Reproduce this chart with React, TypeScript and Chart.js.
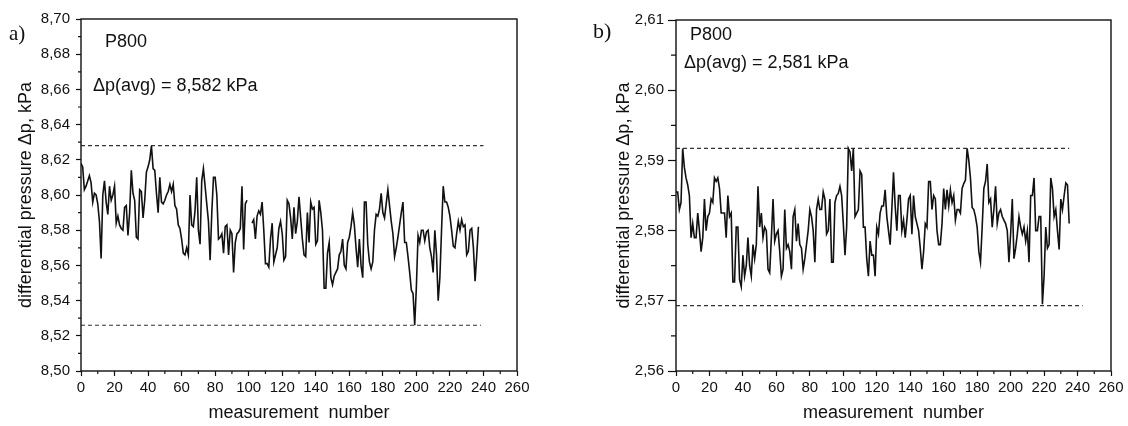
import React, { useEffect, useRef } from "react";
import { Chart, registerables } from "chart.js";

Chart.register(...registerables);

// ---------- data ----------
const measurementTicks = [0, 20, 40, 60, 80, 100, 120, 140, 160, 180, 200, 220, 240, 260];

const leftYTicks = [8.5, 8.52, 8.54, 8.56, 8.58, 8.6, 8.62, 8.64, 8.66, 8.68, 8.7];
const rightYTicks = [2.56, 2.57, 2.58, 2.59, 2.6, 2.61];

const leftPressure: (number | null)[] = [
  8.618, 8.616, 8.603, 8.605, 8.608, 8.611, 8.607, 8.596, 8.601, 8.6,
  8.595, 8.585, 8.564, 8.6, 8.608, 8.596, 8.589, 8.605, 8.597, 8.6,
  8.605, 8.584, 8.588, 8.583, 8.581, 8.58, 8.593, 8.594, 8.577, 8.59,
  8.614, 8.601, 8.597, 8.576, 8.575, 8.603, 8.602, 8.587, 8.597, 8.613,
  8.616, 8.62, 8.628, 8.615, 8.614, 8.601, 8.59, 8.61, 8.596, 8.595,
  8.597, 8.6, 8.602, 8.606, 8.602, 8.606, 8.594, 8.592, 8.583, 8.581,
  8.575, 8.567, 8.566, 8.57, 8.566, 8.6, 8.583, 8.582, 8.591, 8.61,
  8.58, 8.572, 8.608, 8.615, 8.605, 8.595, 8.585, 8.563, 8.59, 8.61,
  8.61, 8.6, 8.575, 8.576, 8.578, 8.567, 8.582, 8.583, 8.566, 8.58,
  8.578, 8.556, 8.573, 8.578, 8.579, 8.581, 8.605, 8.569, 8.595, 8.597,
  null, null, 8.584, 8.586, 8.575, 8.588, 8.591, 8.589, 8.596, 8.58,
  8.561, 8.561, 8.559, 8.575, 8.584, 8.562, 8.566, 8.57, 8.581, 8.585,
  8.578, 8.563, 8.565, 8.597, 8.595, 8.587, 8.575, 8.593, 8.578, 8.585,
  8.599, 8.587, 8.575, 8.566, 8.565, 8.59, 8.573, 8.596, 8.592, 8.593,
  8.572, 8.574, 8.597, 8.59, 8.58, 8.547, 8.547, 8.567, 8.573, 8.553,
  8.549, 8.554, 8.556, 8.558, 8.566, 8.568, 8.575, 8.56, 8.558, 8.573,
  8.576, 8.582, 8.59, 8.583, 8.57, 8.559, 8.575, 8.56, 8.553, 8.596,
  8.596, 8.572, 8.562, 8.558, 8.562, 8.58, 8.589, 8.588, 8.592, 8.601,
  8.59, 8.587, 8.595, 8.603, 8.594, 8.585, 8.578, 8.565, 8.57, 8.576,
  8.583, 8.59, 8.596, 8.573, 8.573, 8.565, 8.556, 8.546, 8.544, 8.526,
  8.548, 8.577, 8.573, 8.58, 8.58, 8.574, 8.579, 8.58, 8.57, 8.565,
  8.556, 8.58, 8.566, 8.54, 8.553, 8.58, 8.605, 8.596, 8.596, 8.593,
  8.588, 8.58, 8.571, 8.57, 8.578, 8.585, 8.58, 8.586, 8.582, 8.583,
  8.566, 8.568, 8.58, 8.581, 8.57, 8.551, 8.566, 8.582,
];

const rightPressure: number[] = [
  2.5855, 2.5855, 2.583, 2.584, 2.5917, 2.589, 2.5875, 2.5865, 2.585, 2.579,
  2.581, 2.579, 2.579, 2.5825, 2.58, 2.577, 2.579, 2.5845, 2.58, 2.582,
  2.5825, 2.5845, 2.584, 2.5875, 2.587, 2.5875, 2.586, 2.5825, 2.5825, 2.5825,
  2.579, 2.585, 2.582, 2.5825, 2.5727, 2.5727, 2.5805, 2.5805, 2.573, 2.572,
  2.5765, 2.5735, 2.575, 2.579, 2.575, 2.5735, 2.578, 2.576, 2.578, 2.5863,
  2.5805, 2.5825, 2.579, 2.5805, 2.58, 2.5745, 2.574, 2.579, 2.5845, 2.5785,
  2.5795, 2.58, 2.577, 2.5735, 2.5745, 2.583, 2.5775, 2.578, 2.577, 2.5745,
  2.582, 2.583, 2.5785, 2.581, 2.578, 2.5775, 2.5745, 2.576, 2.578, 2.58,
  2.583, 2.582, 2.58, 2.5755, 2.583, 2.5845, 2.583, 2.583, 2.5855, 2.5845,
  2.5795, 2.58, 2.5845, 2.5755, 2.5755, 2.584, 2.585, 2.5853, 2.5863, 2.585,
  2.581, 2.5765, 2.5805, 2.5917, 2.5912, 2.5885, 2.5917, 2.582, 2.5825, 2.583,
  2.5885, 2.588, 2.5805, 2.5805, 2.576, 2.5735, 2.5785, 2.5765, 2.5765, 2.5735,
  2.5805, 2.5795, 2.5825, 2.5835, 2.5835, 2.5858, 2.582, 2.58, 2.578, 2.583,
  2.5883, 2.5835, 2.58, 2.585, 2.585, 2.58, 2.5815, 2.579, 2.5815, 2.5845,
  2.585, 2.5795, 2.585, 2.582, 2.581, 2.58, 2.5775, 2.5745, 2.577, 2.581,
  2.5805, 2.587, 2.587, 2.583, 2.585, 2.5845, 2.58, 2.578, 2.578, 2.581,
  2.586, 2.583, 2.5858, 2.5835, 2.5858, 2.584, 2.585, 2.5815, 2.583, 2.583,
  2.5825, 2.586, 2.5867, 2.5872, 2.5917, 2.59, 2.5875, 2.5833, 2.583, 2.582,
  2.5805, 2.577, 2.5755, 2.5805, 2.586, 2.587, 2.5895, 2.584, 2.5845, 2.5805,
  2.583, 2.5863, 2.581, 2.5825, 2.583, 2.582, 2.5815, 2.581, 2.58, 2.5755,
  2.5795, 2.5845, 2.576, 2.5775, 2.5795, 2.582, 2.5805, 2.5795, 2.5805, 2.5785,
  2.58, 2.5755, 2.585, 2.585, 2.5875, 2.58, 2.58, 2.582, 2.582, 2.5695,
  2.5735, 2.5805, 2.5775, 2.578, 2.5875, 2.586, 2.582, 2.583, 2.58, 2.5773,
  2.5845, 2.583, 2.585, 2.5868, 2.5865, 2.581,
];

// limit (dashed) lines: value levels and where each line ends on the x axis
const leftLimitLevels = [8.628, 8.526];
const leftLimitEnds = [240, 238.5];
const rightLimitLevels = [2.5917, 2.5693];
const rightLimitEnds = [235, 243];

const leftTexts = ["a)", "P800", "Δp(avg) = 8,582 kPa"];
const rightTexts = ["b)", "P800", "Δp(avg) = 2,581 kPa"];

const xAxisTitle = "measurement  number";
const yAxisTitle = "differential pressure Δp, kPa";

// ---------- styling ----------
const SANS = '"Liberation Sans", Arial, sans-serif';
const SERIF = '"Liberation Serif", "Times New Roman", serif';
const INK = "#111";

type TextPos = { x: number; y: number; font: string };

type PanelProps = {
  values: (number | null)[];
  yTicks: number[];
  limitLevels: number[];
  limitEnds: number[];
  texts: string[];
  textPos: TextPos[];
  left: number;
  width: number;
  yAxisWidth: number;
  padTop: number;
  padRight: number;
  yTickLen: number;
  yTickPad: number;
  yMinorLen: number;
  xTickLen: number;
  xMinorLen: number;
  yTitlePad: number;
};

function fmt(v: number) {
  return Number(v).toFixed(2).replace(".", ",");
}

function Panel(p: PanelProps) {
  const ref = useRef<HTMLCanvasElement | null>(null);

  useEffect(() => {
    if (!ref.current) return;

    const decor = {
      id: "decor",
      afterDraw(chart: any) {
        const { ctx, chartArea: a, scales } = chart;
        ctx.save();
        ctx.strokeStyle = INK;
        ctx.lineWidth = 1.4;
        ctx.strokeRect(a.left, a.top, a.right - a.left, a.bottom - a.top);
        ctx.lineWidth = 1.2;
        ctx.beginPath();
        for (let i = 0; i < measurementTicks.length - 1; i++) {
          const v = (measurementTicks[i] + measurementTicks[i + 1]) / 2;
          const px = scales.x.getPixelForValue(v);
          ctx.moveTo(px, a.bottom);
          ctx.lineTo(px, a.bottom + p.xMinorLen);
        }
        for (let i = 0; i < p.yTicks.length - 1; i++) {
          const v = (p.yTicks[i] + p.yTicks[i + 1]) / 2;
          const py = scales.y.getPixelForValue(v);
          ctx.moveTo(a.left - p.yMinorLen, py);
          ctx.lineTo(a.left, py);
        }
        ctx.stroke();
        ctx.fillStyle = INK;
        ctx.textAlign = "left";
        ctx.textBaseline = "alphabetic";
        p.texts.forEach((t, i) => {
          const pos = p.textPos[i];
          ctx.font = pos.font;
          ctx.fillText(t, pos.x, pos.y);
        });
        ctx.restore();
      },
    };

    const datasets: any[] = [
      {
        data: p.values.map((v, i) => ({ x: i, y: v })),
        borderColor: INK,
        borderWidth: 1.6,
        pointRadius: 0,
        tension: 0,
        spanGaps: false,
      },
    ];
    p.limitLevels.forEach((lvl, i) => {
      datasets.push({
        data: [
          { x: 0, y: lvl },
          { x: p.limitEnds[i], y: lvl },
        ],
        borderColor: "#333",
        borderWidth: 1.2,
        borderDash: [4, 3],
        pointRadius: 0,
        tension: 0,
      });
    });

    const chart = new Chart(ref.current, {
      type: "line",
      data: { datasets },
      plugins: [decor],
      options: {
        animation: false,
        responsive: false,
        devicePixelRatio: 1,
        events: [],
        layout: { padding: { top: p.padTop, right: p.padRight, left: 0, bottom: 0 } },
        plugins: { legend: { display: false }, tooltip: { enabled: false } },
        scales: {
          x: {
            type: "linear",
            min: measurementTicks[0],
            max: measurementTicks[measurementTicks.length - 1],
            afterBuildTicks: (s: any) => {
              s.ticks = measurementTicks.map((v) => ({ value: v }));
            },
            afterFit: (s: any) => {
              s.height = 55;
            },
            border: { display: false },
            grid: {
              drawOnChartArea: false,
              drawTicks: true,
              tickLength: p.xTickLen,
              tickWidth: 1.2,
              tickColor: INK,
            },
            ticks: {
              autoSkip: false,
              maxRotation: 0,
              padding: 3,
              color: INK,
              font: { family: SANS, size: 15 },
              callback: (v: any) => String(v),
            },
            title: {
              display: true,
              text: xAxisTitle,
              color: INK,
              font: { family: SANS, size: 18 },
              padding: { top: 0, bottom: 2 },
            },
          },
          y: {
            type: "linear",
            min: p.yTicks[0],
            max: p.yTicks[p.yTicks.length - 1],
            afterBuildTicks: (s: any) => {
              s.ticks = p.yTicks.map((v) => ({ value: v }));
            },
            afterFit: (s: any) => {
              s.width = p.yAxisWidth;
            },
            border: { display: false },
            grid: {
              drawOnChartArea: false,
              drawTicks: true,
              tickLength: p.yTickLen,
              tickWidth: 1.2,
              tickColor: INK,
            },
            ticks: {
              autoSkip: false,
              padding: p.yTickPad,
              color: INK,
              font: { family: SANS, size: 15 },
              callback: (v: any) => fmt(v),
            },
            title: {
              display: true,
              text: yAxisTitle,
              color: INK,
              font: { family: SANS, size: 18 },
              padding: { top: p.yTitlePad, bottom: 0 },
            },
          },
        },
      } as any,
    });

    return () => chart.destroy();
  }, [p]);

  return (
    <canvas
      ref={ref}
      width={p.width}
      height={426}
      style={{ position: "absolute", left: p.left, top: 0, width: p.width, height: 426 }}
    />
  );
}

const leftPanel: PanelProps = {
  values: leftPressure,
  yTicks: leftYTicks,
  limitLevels: leftLimitLevels,
  limitEnds: leftLimitEnds,
  texts: leftTexts,
  textPos: [
    { x: 9, y: 40, font: `21px ${SERIF}` },
    { x: 105, y: 47, font: `18px ${SANS}` },
    { x: 93, y: 91, font: `18px ${SANS}` },
  ],
  left: 0,
  width: 560,
  yAxisWidth: 81,
  padTop: 19,
  padRight: 43,
  yTickLen: 5,
  yTickPad: 6,
  yMinorLen: 3,
  xTickLen: 5,
  xMinorLen: 3,
  yTitlePad: 15,
};

const rightPanel: PanelProps = {
  values: rightPressure,
  yTicks: rightYTicks,
  limitLevels: rightLimitLevels,
  limitEnds: rightLimitEnds,
  texts: rightTexts,
  textPos: [
    { x: 33, y: 38, font: `22px ${SERIF}` },
    { x: 130, y: 40, font: `18px ${SANS}` },
    { x: 124, y: 68, font: `18px ${SANS}` },
  ],
  left: 560,
  width: 568,
  yAxisWidth: 116,
  padTop: 20,
  padRight: 17,
  yTickLen: 8,
  yTickPad: 4,
  yMinorLen: 5,
  xTickLen: 5,
  xMinorLen: 3,
  yTitlePad: 53,
};

export default function App() {
  return (
    <div
      style={{
        position: "absolute",
        left: 0,
        top: 0,
        width: 1128,
        height: 426,
        background: "#fff",
        overflow: "hidden",
      }}
    >
      <Panel {...leftPanel} />
      <Panel {...rightPanel} />
    </div>
  );
}
